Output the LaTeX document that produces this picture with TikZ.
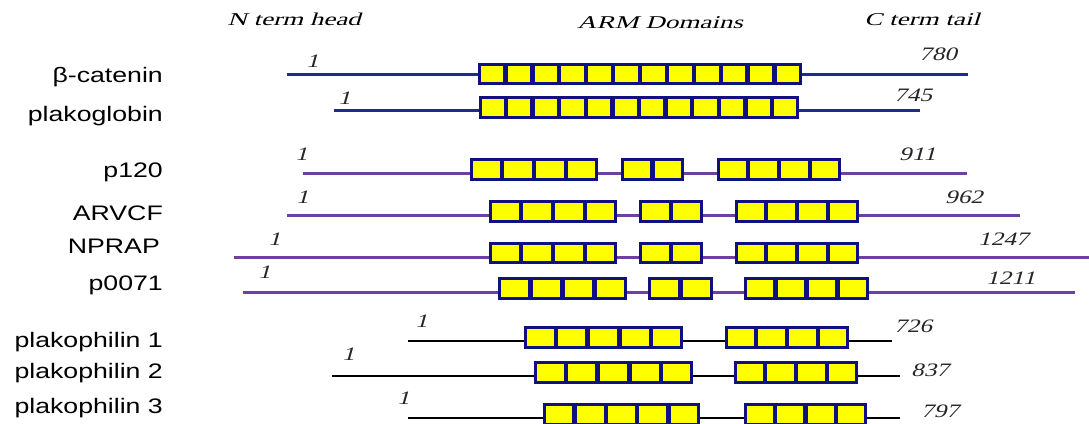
\documentclass[tikz,border=0pt]{standalone}
\usepackage{graphicx}
\usepackage{fontspec}
\newfontfamily\lblfont{Liberation Sans}
\newfontfamily\numfont{Liberation Serif}[FakeSlant=0.21]
\definecolor{armnavy}{RGB}{16,16,128}
\definecolor{armyellow}{RGB}{255,255,0}
\definecolor{catblue}{RGB}{32,40,150}
\definecolor{ppurple}{RGB}{112,64,160}
\newcommand\lbltxt[1]{\scalebox{1.27}[1]{#1}}
\newcommand\numtxt[1]{\scalebox{1.32}[1]{#1}}
\newcommand\hdrtxt[1]{\scalebox{1.5}[1]{#1}}
\tikzset{
  armframe/.style={fill=armnavy, draw=none, inner sep=0pt, outer sep=0pt},
  catline/.style={draw=catblue, line width=3pt},
  purpline/.style={draw=ppurple, line width=3pt},
  pkpline/.style={draw=black, line width=2.8pt},
  protlabel/.style={anchor=base east, inner sep=0pt, text=black, font=\lblfont\fontsize{21}{21}\selectfont},
  posnum/.style={anchor=base west, inner sep=0pt, text=black!85, font=\numfont\fontsize{19}{19}\selectfont},
  hdr/.style={anchor=base, inner sep=0pt, text=black, font=\numfont\fontsize{18}{18}\selectfont},
}
\def\armbw{2.7}
\def\armgap{4.5}
\newcommand\armbox[6]{%
  \node[armframe, minimum width={(#3-#2)*1pt}, minimum height={(#5-#4)*1pt}] (#1) at ({(#2+#3)/2},{(#4+#5)/2}) {};
  \pgfmathsetmacro\armsqw{((#3-#2)-2*\armbw-(#6-1)*\armgap)/#6}
  \pgfmathsetmacro\armsqh{(#5-#4)-2*\armbw}
  \foreach \k in {1,...,#6}{
    \fill[armyellow] ({#2+\armbw+(\k-1)*(\armsqw+\armgap)},{#4+\armbw}) rectangle ++(\armsqw,\armsqh);
  }
}
\begin{document}
\begin{tikzpicture}[x=1pt,y=-1pt]
\useasboundingbox (0,0) rectangle (1089,423);

% headers
\node[hdr] (hN) at (294,25) {\hdrtxt{N term head}};
\node[hdr] (hA) at (660,28) {\hdrtxt{ARM Domains}};
\node[hdr] (hC) at (922,25) {\hdrtxt{C term tail}};

% protein labels
\node[protlabel] (l1) at (163,82) {\lbltxt{β-catenin}};
\node[protlabel] (l2) at (163,121) {\lbltxt{plakoglobin}};
\node[protlabel] (l3) at (163,177) {\lbltxt{p120}};
\node[protlabel] (l4) at (163,220) {\lbltxt{ARVCF}};
\node[protlabel] (l5) at (160,253) {\lbltxt{NPRAP}};
\node[protlabel] (l6) at (163,290) {\lbltxt{p0071}};
\node[protlabel] (l7) at (163,347) {\lbltxt{plakophilin 1}};
\node[protlabel] (l8) at (163,378) {\lbltxt{plakophilin 2}};
\node[protlabel] (l9) at (163,413) {\lbltxt{plakophilin 3}};

% beta-catenin
\armbox{bcA}{478}{802}{63}{85}{12}
\coordinate (bcS) at (287,74); \coordinate (bcE) at (968,74);
\draw[catline] (bcS) -- (bcA.west |- bcS);
\draw[catline] (bcA.east |- bcS) -- (bcE);
\node[posnum] (bc1) at (306,67) {\numtxt{1}};
\node[posnum] (bcN) at (919,60) {\numtxt{780}};

% plakoglobin
\armbox{pgA}{479}{799}{96}{119}{12}
\coordinate (pgS) at (334,110); \coordinate (pgE) at (920,110);
\draw[catline] (pgS) -- (pgA.west |- pgS);
\draw[catline] (pgA.east |- pgS) -- (pgE);
\node[posnum] (pg1) at (338,104) {\numtxt{1}};
\node[posnum] (pgN) at (894,101) {\numtxt{745}};

% p120
\armbox{pA}{470}{598}{158}{181}{4}
\armbox{pB}{621}{684}{158}{181}{2}
\armbox{pC}{717}{841}{158}{181}{4}
\coordinate (pS) at (303,173); \coordinate (pE) at (967,173);
\draw[purpline] (pS) -- (pA.west |- pS);
\draw[purpline] (pA.east |- pS) -- (pB.west |- pS);
\draw[purpline] (pB.east |- pS) -- (pC.west |- pS);
\draw[purpline] (pC.east |- pS) -- (pE);
\node[posnum] (p1) at (295,160) {\numtxt{1}};
\node[posnum] (pN) at (899,160) {\numtxt{911}};

% ARVCF
\armbox{aA}{489}{617}{200}{223}{4}
\armbox{aB}{639}{703}{200}{223}{2}
\armbox{aC}{735}{859}{200}{223}{4}
\coordinate (aS) at (287,215); \coordinate (aE) at (1020,215);
\draw[purpline] (aS) -- (aA.west |- aS);
\draw[purpline] (aA.east |- aS) -- (aB.west |- aS);
\draw[purpline] (aB.east |- aS) -- (aC.west |- aS);
\draw[purpline] (aC.east |- aS) -- (aE);
\node[posnum] (a1) at (296,203) {\numtxt{1}};
\node[posnum] (aN) at (945,203) {\numtxt{962}};

% NPRAP
\armbox{nA}{489}{617}{242}{264}{4}
\armbox{nB}{639}{703}{242}{264}{2}
\armbox{nC}{735}{859}{242}{264}{4}
\coordinate (nS) at (234,257); \coordinate (nE) at (1089,257);
\draw[purpline] (nS) -- (nA.west |- nS);
\draw[purpline] (nA.east |- nS) -- (nB.west |- nS);
\draw[purpline] (nB.east |- nS) -- (nC.west |- nS);
\draw[purpline] (nC.east |- nS) -- (nE);
\node[posnum] (n1) at (268,245) {\numtxt{1}};
\node[posnum] (nN) at (978,245) {\numtxt{1247}};

% p0071
\armbox{oA}{498}{627}{277}{300}{4}
\armbox{oB}{648}{713}{277}{300}{2}
\armbox{oC}{744}{869}{277}{300}{4}
\coordinate (oS) at (243,292); \coordinate (oE) at (1075,292);
\draw[purpline] (oS) -- (oA.west |- oS);
\draw[purpline] (oA.east |- oS) -- (oB.west |- oS);
\draw[purpline] (oB.east |- oS) -- (oC.west |- oS);
\draw[purpline] (oC.east |- oS) -- (oE);
\node[posnum] (o1) at (258,278) {\numtxt{1}};
\node[posnum] (oN) at (986,284) {\numtxt{1211}};

% plakophilin 1
\armbox{kA}{524}{683}{326}{349}{5}
\armbox{kB}{725}{849}{326}{349}{4}
\coordinate (kS) at (408,341); \coordinate (kE) at (892,341);
\draw[pkpline] (kS) -- (kA.west |- kS);
\draw[pkpline] (kA.east |- kS) -- (kB.west |- kS);
\draw[pkpline] (kB.east |- kS) -- (kE);
\node[posnum] (k1) at (415,327) {\numtxt{1}};
\node[posnum] (kN) at (894,332) {\numtxt{726}};

% plakophilin 2
\armbox{mA}{534}{693}{361}{384}{5}
\armbox{mB}{734}{858}{361}{384}{4}
\coordinate (mS) at (332,376); \coordinate (mE) at (900,376);
\draw[pkpline] (mS) -- (mA.west |- mS);
\draw[pkpline] (mA.east |- mS) -- (mB.west |- mS);
\draw[pkpline] (mB.east |- mS) -- (mE);
\node[posnum] (m1) at (342,360) {\numtxt{1}};
\node[posnum] (mN) at (911,376) {\numtxt{837}};

% plakophilin 3
\armbox{qA}{543}{700}{403}{426}{5}
\armbox{qB}{744}{867}{403}{426}{4}
\coordinate (qS) at (408,418); \coordinate (qE) at (900,418);
\draw[pkpline] (qS) -- (qA.west |- qS);
\draw[pkpline] (qA.east |- qS) -- (qB.west |- qS);
\draw[pkpline] (qB.east |- qS) -- (qE);
\node[posnum] (q1) at (397,404) {\numtxt{1}};
\node[posnum] (qN) at (921,417) {\numtxt{797}};
\end{tikzpicture}
\end{document}
